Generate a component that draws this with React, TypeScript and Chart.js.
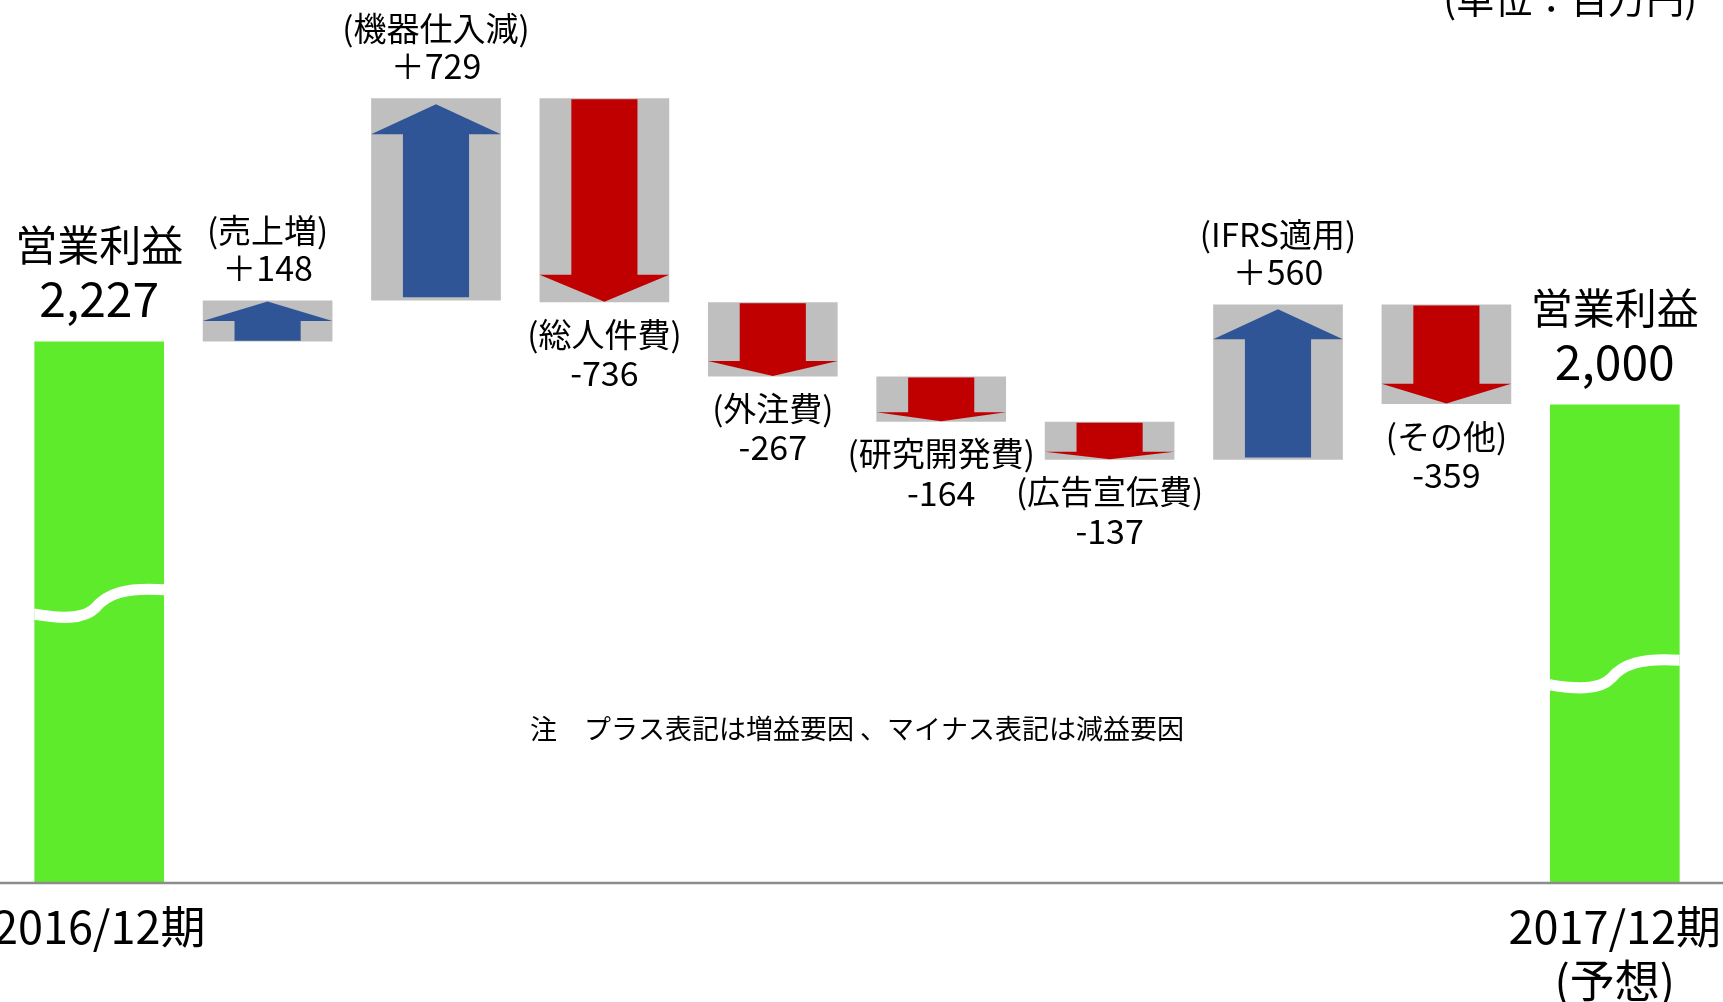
import React, { useEffect, useRef } from "react";
import { Chart, registerables } from "chart.js";

Chart.register(...registerables);

// ---- data ----
const categories = [
  "2016/12期",
  "売上増",
  "機器仕入減",
  "総人件費",
  "外注費",
  "研究開発費",
  "広告宣伝費",
  "IFRS適用",
  "その他",
  "2017/12期",
];
const tickLabels: (string | string[])[] = [
  "2016/12期",
  "",
  "",
  "",
  "",
  "",
  "",
  "",
  "",
  ["2017/12期", "(予想)"],
];
const startTotal = 2227;
const endTotal = 2000;
const deltas = [148, 729, -736, -267, -164, -137, 560, -359];
const deltaNames = [
  "(売上増)",
  "(機器仕入減)",
  "(総人件費)",
  "(外注費)",
  "(研究開発費)",
  "(広告宣伝費)",
  "(IFRS適用)",
  "(その他)",
];
const totalName = "営業利益";
const unitLabel = "(単位：百万円)";
const noteText = "注　プラス表記は増益要因 、マイナス表記は減益要因";
const yMin = 278;
const yMax = 3458;

// ---- styles ----
const FONT = '"Noto Sans CJK JP", "Noto Sans", sans-serif';
const GREEN = "#5DEB2C";
const GRAY = "#BFBFBF";
const BLUE = "#2F5597";
const RED = "#C00000";

const totalData: (number | null)[] = [startTotal, ...deltas.map(() => null), endTotal];
const floatData: ([number, number] | null)[] = (() => {
  let run = startTotal;
  const out: ([number, number] | null)[] = [null];
  deltas.forEach((d) => {
    out.push([run, run + d]);
    run += d;
  });
  out.push(null);
  return out;
})();

const fmtDelta = (d: number) => (d > 0 ? "＋" + d : String(d));
const fmtTotal = (v: number) => v.toLocaleString("en-US");

const decorPlugin = {
  id: "decor",
  afterDatasetsDraw(chart: any) {
    const ctx: CanvasRenderingContext2D = chart.ctx;
    const area = chart.chartArea;
    const greenMeta = chart.getDatasetMeta(0);
    const grayMeta = chart.getDatasetMeta(1);

    // axis line across the full width
    ctx.save();
    ctx.strokeStyle = "#8C8C8C";
    ctx.lineWidth = 2.5;
    ctx.beginPath();
    ctx.moveTo(0, area.bottom + 1);
    ctx.lineTo(chart.width, area.bottom + 1);
    ctx.stroke();
    ctx.restore();

    // arrows inside gray boxes + labels
    deltas.forEach((d, i) => {
      const el: any = grayMeta.data[i + 1];
      if (!el) return;
      const w = el.width;
      const x0 = el.x - w / 2;
      const x1 = el.x + w / 2;
      const top = Math.min(el.y, el.base);
      const bot = Math.max(el.y, el.base);
      const h = bot - top;
      const sw = w * 0.51;
      const sx0 = el.x - sw / 2;
      const sx1 = el.x + sw / 2;
      ctx.save();
      ctx.beginPath();
      if (d > 0) {
        const head = h < 60 ? 0.47 * h : Math.min(0.2 * h, 30);
        const mt = 0.03 * h;
        const mb = 0.015 * h;
        ctx.moveTo(el.x, top + mt);
        ctx.lineTo(x1, top + mt + head);
        ctx.lineTo(sx1, top + mt + head);
        ctx.lineTo(sx1, bot - mb);
        ctx.lineTo(sx0, bot - mb);
        ctx.lineTo(sx0, top + mt + head);
        ctx.lineTo(x0, top + mt + head);
        ctx.closePath();
        ctx.fillStyle = BLUE;
      } else {
        const head = Math.min(0.2 * h, 27);
        const st = top + 1;
        const apex = bot - 0.5;
        ctx.moveTo(sx0, st);
        ctx.lineTo(sx1, st);
        ctx.lineTo(sx1, apex - head);
        ctx.lineTo(x1, apex - head);
        ctx.lineTo(el.x, apex);
        ctx.lineTo(x0, apex - head);
        ctx.lineTo(sx0, apex - head);
        ctx.closePath();
        ctx.fillStyle = RED;
      }
      ctx.fill();

      ctx.fillStyle = "#000";
      ctx.textAlign = "center";
      ctx.textBaseline = "middle";
      if (d > 0) {
        ctx.font = `33px ${FONT}`;
        ctx.fillText(deltaNames[i], el.x, top - 70);
        ctx.font = `34px ${FONT}`;
        ctx.fillText(fmtDelta(d), el.x, top - 32);
      } else {
        ctx.font = `33px ${FONT}`;
        ctx.fillText(deltaNames[i], el.x, bot + 32);
        ctx.font = `34px ${FONT}`;
        ctx.fillText(fmtDelta(d), el.x, bot + 71);
      }
      ctx.restore();
    });

    // green total bars: break symbol + labels
    const breakLeft: Record<number, number> = { 0: 0.696, 9: 0.776 };
    [0, categories.length - 1].forEach((idx) => {
      const el: any = greenMeta.data[idx];
      if (!el) return;
      const w = el.width;
      const x0 = el.x - w / 2;
      const x1 = el.x + w / 2;
      const top = Math.min(el.y, el.base);
      const bot = Math.max(el.y, el.base);
      const yL = area.top + (area.bottom - area.top) * breakLeft[idx];
      ctx.save();
      ctx.beginPath();
      ctx.rect(x0, top, w, bot - top);
      ctx.clip();
      ctx.strokeStyle = "#FFFFFF";
      ctx.lineWidth = 11;
      ctx.lineCap = "butt";
      ctx.beginPath();
      ctx.moveTo(x0 - 2, yL);
      ctx.bezierCurveTo(x0 + 0.2 * w, yL + 5, x0 + 0.38 * w, yL + 6, x0 + 0.47 * w, yL - 6);
      ctx.bezierCurveTo(x0 + 0.56 * w, yL - 20, x0 + 0.7 * w, yL - 27, x1 + 2, yL - 24);
      ctx.stroke();
      ctx.restore();

      const v = idx === 0 ? startTotal : endTotal;
      ctx.save();
      ctx.fillStyle = "#000";
      ctx.textAlign = "center";
      ctx.textBaseline = "middle";
      ctx.font = `42px ${FONT}`;
      ctx.fillText(totalName, el.x, top - 96);
      ctx.font = `48px ${FONT}`;
      ctx.fillText(fmtTotal(v), el.x, top - 43);
      ctx.restore();
    });

    // note + unit
    ctx.save();
    ctx.fillStyle = "#000";
    ctx.textBaseline = "middle";
    ctx.textAlign = "center";
    ctx.font = `27px ${FONT}`;
    ctx.fillText(noteText, (area.left + area.right) / 2, area.top + (area.bottom - area.top) * 0.8265);
    ctx.textAlign = "right";
    ctx.font = `38px ${FONT}`;
    ctx.fillText(unitLabel, chart.width - 26, -1);
    ctx.restore();
  },
};

export default function App() {
  const canvasRef = useRef<HTMLCanvasElement | null>(null);

  useEffect(() => {
    if (!canvasRef.current) return;
    const chart = new Chart(canvasRef.current, {
      type: "bar",
      data: {
        labels: categories,
        datasets: [
          {
            label: "営業利益",
            data: totalData as any,
            backgroundColor: GREEN,
            grouped: false,
            barPercentage: 0.77,
            categoryPercentage: 1,
          },
          {
            label: "増減",
            data: floatData as any,
            backgroundColor: GRAY,
            grouped: false,
            barPercentage: 0.77,
            categoryPercentage: 1,
          },
        ],
      },
      options: {
        responsive: false,
        animation: false,
        devicePixelRatio: 1,
        layout: { padding: { left: 15, right: 24, top: 0, bottom: 0 } },
        plugins: {
          legend: { display: false },
          tooltip: { enabled: false },
        },
        scales: {
          x: {
            type: "category",
            grid: { display: false, drawTicks: false },
            border: { display: false },
            ticks: {
              autoSkip: false,
              maxRotation: 0,
              minRotation: 0,
              padding: 18,
              color: "#000",
              font: { family: FONT, size: 45 },
              callback: (_v: any, i: number) => tickLabels[i],
            },
            afterFit: (s: any) => {
              s.height = 120;
              s.paddingLeft = 0;
              s.paddingRight = 0;
            },
          },
          y: {
            display: false,
            min: yMin,
            max: yMax,
          },
        },
      },
      plugins: [decorPlugin],
    });
    return () => chart.destroy();
  }, []);

  return (
    <div style={{ position: "absolute", left: 0, top: 0, width: 1723, height: 1002, background: "#fff" }}>
      <canvas ref={canvasRef} width={1723} height={1002} style={{ display: "block" }} />
    </div>
  );
}
